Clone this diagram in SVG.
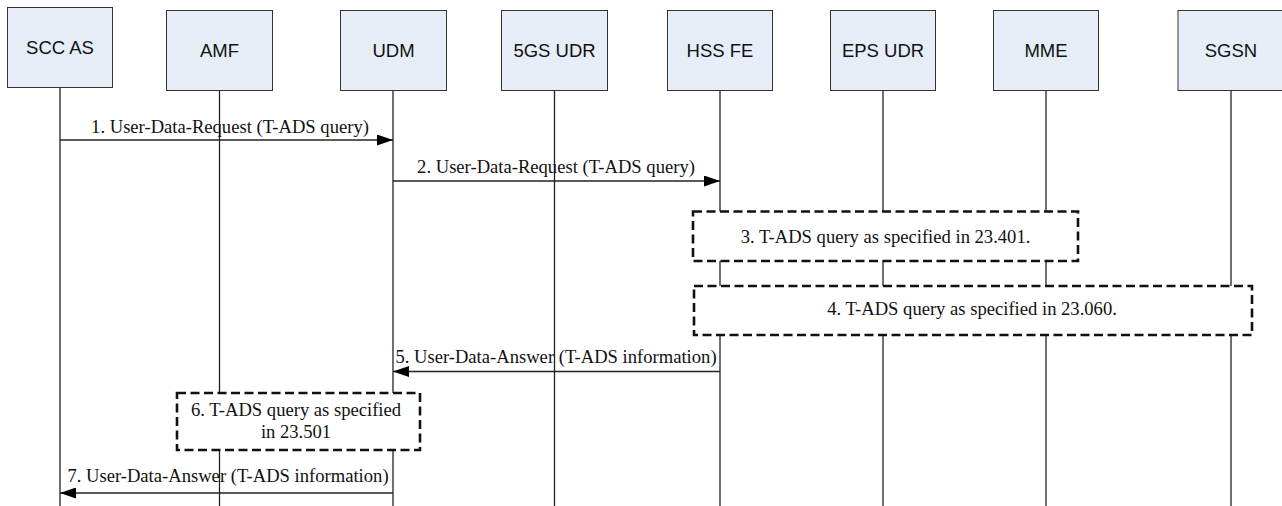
<svg xmlns="http://www.w3.org/2000/svg" width="1282" height="506" viewBox="0 0 1282 506">
<style>
.box{fill:#e7edf7;stroke:#333;stroke-width:1}
.ht{font-family:"Liberation Sans",Arial,sans-serif;font-size:18.5px;fill:#111;text-anchor:middle}
.life{stroke:#222;stroke-width:1.3;fill:none}
.msg{stroke:#222;stroke-width:1.3;fill:none}
.lbl{font-family:"Liberation Serif","Times New Roman",serif;font-size:18.6px;fill:#111;text-anchor:middle}
.dash{fill:#fff;stroke:#111;stroke-width:2.6;stroke-dasharray:9,4.5}
</style>
<defs>
<marker id="ah" markerWidth="16" markerHeight="11" refX="16" refY="5.5" orient="auto" markerUnits="userSpaceOnUse">
<path d="M0,0 L16,5.5 L0,11 Z" fill="#000"/>
</marker>
</defs>
<g id="lifelines">
<line class="life" x1="60" y1="87" x2="60" y2="506"/>
<line class="life" x1="219.5" y1="90" x2="219.5" y2="506"/>
<line class="life" x1="393" y1="90" x2="393" y2="506"/>
<line class="life" x1="554.5" y1="90" x2="554.5" y2="506"/>
<line class="life" x1="720" y1="90" x2="720" y2="506"/>
<line class="life" x1="883" y1="90" x2="883" y2="506"/>
<line class="life" x1="1046" y1="90" x2="1046" y2="506"/>
<line class="life" x1="1231" y1="90" x2="1231" y2="506"/>
</g>
<g id="n-sccas"><rect class="box" x="7.5" y="7.5" width="105" height="80"/><text class="ht" x="60" y="54">SCC AS</text></g>
<g id="n-amf"><rect class="box" x="166.5" y="10.5" width="106" height="80"/><text class="ht" x="219.5" y="57">AMF</text></g>
<g id="n-udm"><rect class="box" x="340.5" y="10.5" width="106" height="80"/><text class="ht" x="393.5" y="57">UDM</text></g>
<g id="n-5gsudr"><rect class="box" x="501.5" y="10.5" width="106" height="80"/><text class="ht" x="554.5" y="57">5GS UDR</text></g>
<g id="n-hssfe"><rect class="box" x="667.5" y="10.5" width="105" height="80"/><text class="ht" x="720" y="57">HSS FE</text></g>
<g id="n-epsudr"><rect class="box" x="830.5" y="10.5" width="105" height="80"/><text class="ht" x="883" y="57">EPS UDR</text></g>
<g id="n-mme"><rect class="box" x="993.5" y="10.5" width="105" height="80"/><text class="ht" x="1046" y="57">MME</text></g>
<g id="n-sgsn"><rect class="box" x="1178" y="10.5" width="110" height="80"/><text class="ht" x="1231" y="57">SGSN</text></g>
<g id="connectors">
<line class="msg" x1="60" y1="140" x2="393" y2="140" marker-end="url(#ah)"/>
<text class="lbl" x="230" y="133">1. User-Data-Request (T-ADS query)</text>
<line class="msg" x1="393" y1="181" x2="720" y2="181" marker-end="url(#ah)"/>
<text class="lbl" x="556" y="173">2. User-Data-Request (T-ADS query)</text>
<line class="msg" x1="720" y1="371.5" x2="393" y2="371.5" marker-end="url(#ah)"/>
<text class="lbl" x="556" y="363">5. User-Data-Answer (T-ADS information)</text>
<line class="msg" x1="393" y1="493" x2="60" y2="493" marker-end="url(#ah)"/>
<text class="lbl" x="228" y="482">7. User-Data-Answer (T-ADS information)</text>
</g>
<g id="step3"><rect class="dash" x="693" y="211.5" width="385" height="49.5"/><text class="lbl" x="885.5" y="243">3. T-ADS query as specified in 23.401.</text></g>
<g id="step4"><rect class="dash" x="694" y="286" width="558" height="49"/><text class="lbl" x="972" y="315">4. T-ADS query as specified in 23.060.</text></g>
<g id="step6"><rect class="dash" x="177" y="393" width="243" height="57"/><text class="lbl" x="296" y="416">6. T-ADS query as specified</text><text class="lbl" x="296" y="438">in 23.501</text></g>
</svg>
